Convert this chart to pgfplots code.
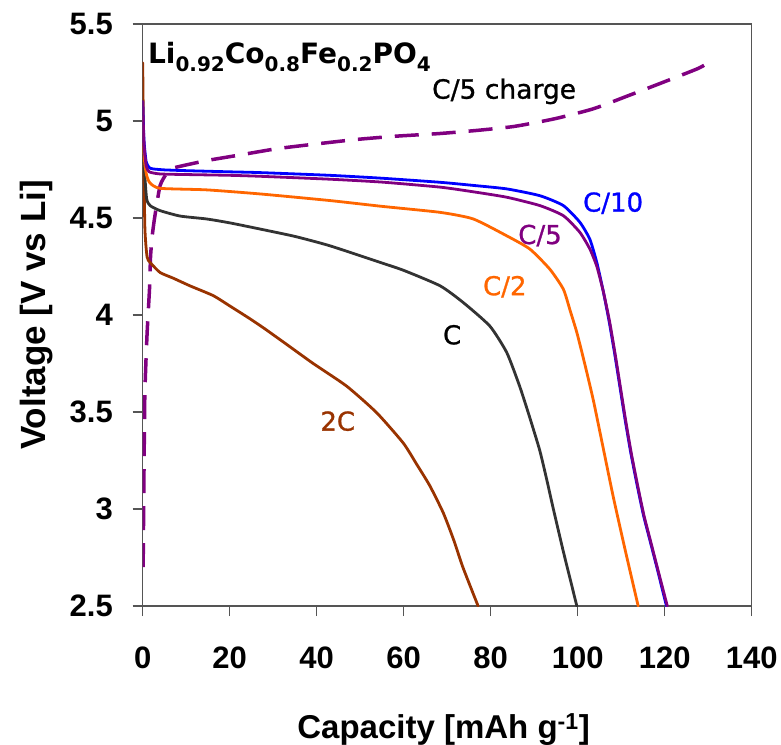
\documentclass[border=0pt]{standalone}
\usepackage{fontspec}
\setmainfont{Liberation Sans}
\newfontfamily\dejavu{DejaVu Sans}
\newfontfamily\dejavulabel[FakeBold=1]{DejaVu Sans}
\usepackage{pgfplots}
\pgfplotsset{compat=1.18}

\definecolor{cten}{HTML}{0000FF}
\definecolor{cfive}{HTML}{800080}
\definecolor{chalf}{HTML}{FF6600}
\definecolor{cone}{HTML}{333333}
\definecolor{ctwo}{HTML}{993300}
\definecolor{frame}{HTML}{555555}

% subscript in the label font
\newcommand{\sub}[1]{\raisebox{-0.28em}{\fontsize{20}{22}\selectfont #1}}

\begin{document}
\begin{tikzpicture}
\useasboundingbox (-142.7pt,-138pt) rectangle (638.3pt,606pt);
\begin{axis}[
  at={(0pt,0pt)}, anchor=south west,
  scale only axis, width=609pt, height=582pt,
  xmin=0, xmax=140, ymin=2.5, ymax=5.5,
  xtick={0,20,...,140},
  ytick={2.5,3,3.5,4,4.5,5,5.5},
  xtick pos=bottom, ytick pos=left,
  tick align=outside,
  major tick length=10pt,
  axis line style={draw=frame, line width=1.3pt},
  every tick/.style={draw=frame, line width=1.3pt},
  /pgf/number format/assume math mode=true,
  ticklabel style={font=\fontsize{31}{34}\selectfont\bfseries, inner sep=0pt},
  xticklabel shift=31pt,
  yticklabel shift=19.7pt,
  xlabel={Capacity [mAh g\textsuperscript{-1}]},
  ylabel={Voltage [V vs Li]},
  xlabel style={font=\fontsize{33}{36}\selectfont\bfseries,
    at={(axis description cs:0.494,-0.2273)}, anchor=base},
  ylabel style={font=\fontsize{35}{38}\selectfont\bfseries,
    at={(axis description cs:-0.1604,0.5)}, anchor=base},
  every axis plot/.append style={line join=round, line cap=round, smooth, tension=0.35},
]

% C/5 charge
\addplot[cfive, line width=3.5pt, line cap=butt, dash pattern=on 24pt off 13pt] coordinates {
(0.1,2.7) (0.3,3.2) (0.5,3.6) (1.0,3.9) (1.6,4.15) (1.8,4.3) (2.2,4.41)
(2.8,4.51) (4,4.667) (5.5,4.73) (6.7,4.755) (9.3,4.77) (14.7,4.796)
(21.6,4.822) (30.8,4.857) (40,4.882) (49.2,4.905) (58.4,4.922) (68,4.935)
(76.6,4.951) (85.4,4.972) (94.8,5.012) (103.6,5.063) (111.8,5.132)
(119.8,5.201) (127.6,5.27) (130,5.30)
};

% 2C discharge
\addplot[ctwo, line width=2.8pt] coordinates {
(0,5.3) (0.2,4.9) (0.5,4.45) (1,4.3) (1.7,4.271) (4,4.219) (7,4.19)
(10.9,4.15) (16.2,4.10) (20,4.047) (24.7,3.98) (28,3.93) (33,3.85)
(39.2,3.75) (46.9,3.633) (53.8,3.496) (59.9,3.34) (63,3.23) (66,3.12)
(69.1,2.98) (71.5,2.84) (73.6,2.70) (77.1,2.5)
};

% C discharge
\addplot[cone, line width=2.8pt] coordinates {
(0,4.94) (0.4,4.75) (0.9,4.6) (1.7,4.564) (4,4.538) (8.6,4.51)
(14.7,4.495) (20,4.475) (27,4.443) (35,4.405) (43,4.357) (54.6,4.271)
(60,4.23) (68.4,4.15) (73.7,4.064) (79.8,3.943) (83.7,3.806) (86.7,3.63)
(89,3.47) (91.3,3.30) (93,3.14) (94.3,3.01) (96.6,2.79) (98.2,2.645)
(99.8,2.5)
};

% C/2 discharge
\addplot[chalf, line width=2.8pt] coordinates {
(0,5.02) (0.4,4.8) (0.9,4.72) (1.7,4.68) (4,4.653) (14.7,4.645) (27,4.624)
(43,4.59) (55,4.56) (68.4,4.529) (76,4.495) (83.7,4.408) (89,4.34)
(93.6,4.236) (96.7,4.133) (98.3,4.02) (99.8,3.91) (101.6,3.75)
(103.6,3.56) (105.9,3.31) (108.2,3.06) (110.9,2.79) (113.9,2.5)
};

% C/10 discharge
\addplot[cten, line width=2.8pt] coordinates {
(0,5.1) (0.3,4.9) (0.8,4.79) (1.5,4.76) (2.4,4.753) (5,4.748) (10,4.744)
(20,4.738) (27,4.734) (43,4.72) (55,4.705) (68.4,4.684) (76,4.668)
(83.7,4.65) (91.3,4.615) (96.7,4.564) (100.5,4.478) (102.8,4.39)
(104.4,4.27) (105.8,4.13) (107.2,3.97) (108.5,3.80) (109.7,3.63)
(110.9,3.46) (112.2,3.29) (113.6,3.13) (115.1,2.97) (116.7,2.83)
(118.3,2.69) (120.4,2.5)
};

% C/5 discharge
\addplot[cfive, line width=2.8pt] coordinates {
(0,5.1) (0.3,4.88) (0.8,4.77) (1.5,4.738) (4,4.727) (10,4.724) (20,4.72)
(27,4.715) (43,4.70) (55,4.685) (68.4,4.659) (76,4.635) (83.7,4.607)
(91.3,4.564) (96.7,4.512) (100.5,4.426) (102.8,4.34) (104.4,4.25)
(105.9,4.12) (107.3,3.97) (108.6,3.80) (109.8,3.63) (111,3.46)
(112.3,3.29) (113.7,3.13) (115.2,2.97) (116.8,2.83) (118.4,2.69)
(120.6,2.5)
};

\node[anchor=base west, inner sep=0pt, font=\dejavu\bfseries\fontsize{28}{30}\selectfont]
  at (axis cs:1.2,5.296) {Li\sub{0.92}Co\sub{0.8}Fe\sub{0.2}PO\sub{4}};
\node[anchor=base west, inner sep=0pt, font=\dejavulabel\fontsize{26.5}{28}\selectfont]
  at (axis cs:66.5,5.115) {C/5 charge};
\node[anchor=base west, inner sep=0pt, text=cten, font=\dejavulabel\fontsize{26}{28}\selectfont]
  at (axis cs:101.2,4.533) {C/10};
\node[anchor=base west, inner sep=0pt, text=cfive, font=\dejavulabel\fontsize{26}{28}\selectfont]
  at (axis cs:86.3,4.366) {C/5};
\node[anchor=base west, inner sep=0pt, text=chalf, font=\dejavulabel\fontsize{26}{28}\selectfont]
  at (axis cs:78.2,4.102) {C/2};
\node[anchor=base west, inner sep=0pt, text=black, font=\dejavulabel\fontsize{26}{28}\selectfont]
  at (axis cs:69.0,3.849) {C};
\node[anchor=base west, inner sep=0pt, text=ctwo, font=\dejavulabel\fontsize{26}{28}\selectfont]
  at (axis cs:40.8,3.404) {2C};
\end{axis}
\end{tikzpicture}
\end{document}
